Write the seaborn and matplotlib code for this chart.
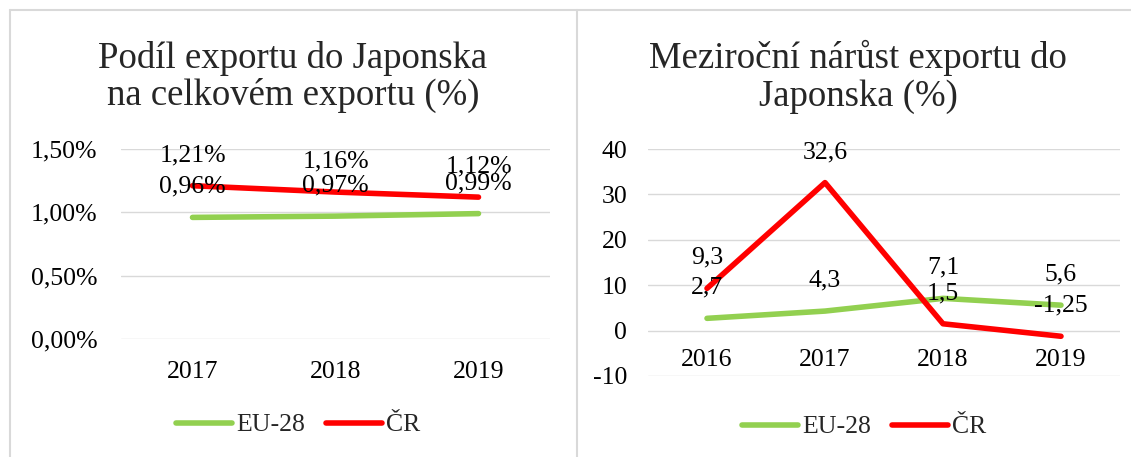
import matplotlib
matplotlib.use("Agg")
import matplotlib.pyplot as plt
from matplotlib.lines import Line2D
from matplotlib.ticker import FuncFormatter
import pandas as pd
import seaborn as sns

# ——— Data ———
share_years = [2017, 2018, 2019]
share_eu = [0.96, 0.97, 0.99]
share_cr = [1.21, 1.16, 1.12]

growth_years = [2016, 2017, 2018, 2019]
growth_eu = [2.7, 4.3, 7.1, 5.6]
growth_cr = [9.3, 32.6, 1.5, -1.25]

series_names = ["EU-28", "ČR"]
colors = {"EU-28": "#92D050", "ČR": "#FF0000"}

title_left = "Podíl exportu do Japonska\nna celkovém exportu (%)"
title_right = "Meziroční nárůst exportu do\nJaponska (%)"

# ——— Style ———
sns.set_theme(style="white")
plt.rcParams["font.family"] = ["Liberation Serif", "DejaVu Serif"]
FS = 18.5
LW = 4.0
GRID = "#D9D9D9"

W, H = 1131, 457
fig = plt.figure(figsize=(W / 100, H / 100), dpi=100)


def px_box(x0, y0, x1, y1):
    return [x0 / W, 1 - y1 / H, (x1 - x0) / W, (y1 - y0) / H]


def long_df(years, eu, cr):
    return pd.DataFrame({
        "year": years * 2,
        "value": eu + cr,
        "series": ["EU-28"] * len(years) + ["ČR"] * len(years),
    })


def style_axes(ax, years, ylim, yticks, yfmt, ypad, xpad):
    ax.set_xlim(years[0] - 0.5, years[-1] + 0.5)
    ax.set_ylim(*ylim)
    ax.set_xticks(years)
    ax.set_xticklabels([str(y) for y in years])
    ax.set_yticks(yticks)
    ax.yaxis.set_major_formatter(FuncFormatter(yfmt))
    ax.grid(axis="y", color=GRID, lw=1.0)
    ax.set_axisbelow(True)
    for s in ax.spines.values():
        s.set_visible(False)
    ax.tick_params(axis="y", length=0, pad=ypad, labelsize=FS, colors="black")
    ax.tick_params(axis="x", length=0, pad=xpad, labelsize=FS, colors="black")
    ax.set_xlabel("")
    ax.set_ylabel("")
    if ax.get_legend() is not None:
        ax.get_legend().remove()


def add_labels(ax, years, values, fmt):
    for x, v in zip(years, values):
        ax.annotate(fmt(v), (x, v), xytext=(0, 22), textcoords="offset points",
                    ha="center", va="center", fontsize=FS, color="black")


def add_legend(cx, cy):
    handles = [Line2D([], [], color=colors[n], lw=LW, solid_capstyle="round")
               for n in series_names]
    fig.legend(handles, series_names, loc="center", bbox_to_anchor=(cx / W, 1 - cy / H),
               ncol=2, frameon=False, fontsize=FS, handlelength=2.2,
               handletextpad=0.15, columnspacing=0.8, borderaxespad=0)


# ——— Left chart ———
ax1 = fig.add_axes(px_box(121, 149, 550, 339))
df1 = long_df(share_years, share_eu, share_cr)
sns.lineplot(data=df1, x="year", y="value", hue="series", palette=colors,
             hue_order=series_names, lw=LW, ax=ax1, solid_capstyle="round")
style_axes(ax1, share_years, (0, 1.5), [0, 0.5, 1.0, 1.5],
           lambda v, p: f"{v:.2f}".replace(".", ",") + "%", 17, 16)
pct = lambda v: f"{v:.2f}".replace(".", ",") + "%"
add_labels(ax1, share_years, share_cr, pct)
add_labels(ax1, share_years, share_eu, pct)

# ——— Right chart ———
ax2 = fig.add_axes(px_box(648, 149, 1120, 376))
df2 = long_df(growth_years, growth_eu, growth_cr)
sns.lineplot(data=df2, x="year", y="value", hue="series", palette=colors,
             hue_order=series_names, lw=LW, ax=ax2, solid_capstyle="round")
style_axes(ax2, growth_years, (-10, 40), [-10, 0, 10, 20, 30, 40],
           lambda v, p: f"{v:.0f}".replace("\u2212", "-"), 15, 13)
ax2.spines["bottom"].set_position(("data", 0))
num = lambda v: f"{v:g}".replace(".", ",")
add_labels(ax2, growth_years, growth_cr, num)
add_labels(ax2, growth_years, growth_eu, num)

# ——— Titles, legends, frames ———
fig.text(293 / W, 1 - 77 / H, title_left, ha="center", va="center",
         fontsize=26.5, linespacing=1.1)
fig.text(858 / W, 1 - 77 / H, title_right, ha="center", va="center",
         fontsize=26.5, linespacing=1.1)
add_legend(298, 425)
add_legend(864, 427)

for (x0, y0, x1, y1) in [(10, 10, W, 10), (10, 10, 10, H), (577, 10, 577, H)]:
    fig.add_artist(Line2D([x0 / W, x1 / W], [1 - y0 / H, 1 - y1 / H],
                          transform=fig.transFigure, color=GRID, lw=1.5))

fig.savefig("out.png", dpi=100)
